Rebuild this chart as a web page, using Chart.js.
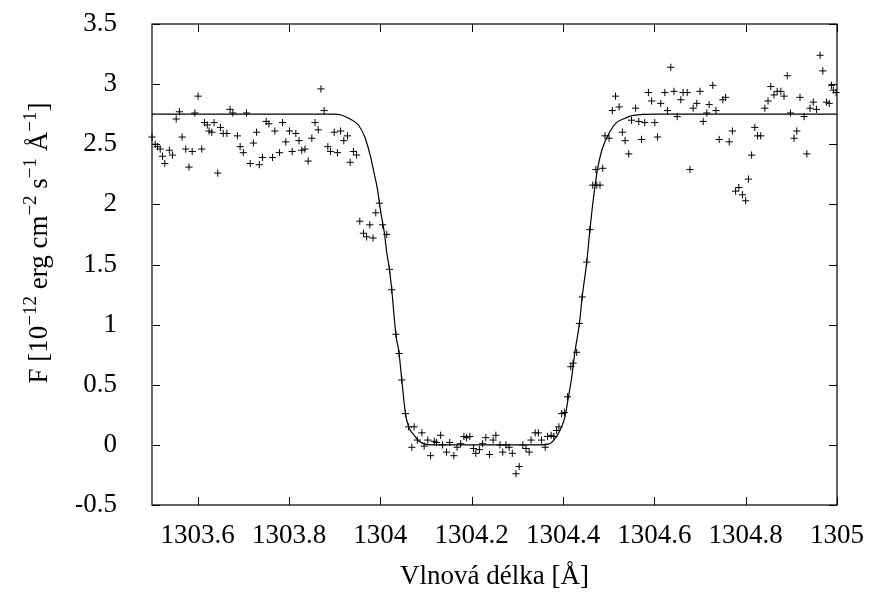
<!DOCTYPE html>
<html>
<head>
<meta charset="utf-8">
<script src="https://cdn.jsdelivr.net/npm/chart.js@4"></script>
<style>
  html, body { margin: 0; padding: 0; background: #fff; }
  #wrap { width: 873px; height: 593px; }
</style>
</head>
<body>
<div id="wrap"><canvas id="c"></canvas></div>
<script>
const waveObs = [
  1303.500, 1303.507, 1303.512, 1303.518, 1303.523, 1303.528, 1303.538, 1303.545, 1303.553, 1303.560,
  1303.566, 1303.574, 1303.581, 1303.588, 1303.594, 1303.601, 1303.609, 1303.615, 1303.621, 1303.625,
  1303.631, 1303.636, 1303.644, 1303.650, 1303.656, 1303.664, 1303.671, 1303.677, 1303.687, 1303.693,
  1303.700, 1303.707, 1303.715, 1303.722, 1303.729, 1303.735, 1303.742, 1303.750, 1303.756, 1303.764,
  1303.769, 1303.779, 1303.786, 1303.793, 1303.801, 1303.807, 1303.815, 1303.822, 1303.828, 1303.835,
  1303.842, 1303.850, 1303.857, 1303.864, 1303.870, 1303.877, 1303.885, 1303.891, 1303.899, 1303.906,
  1303.913, 1303.920, 1303.928, 1303.934, 1303.941, 1303.948, 1303.955, 1303.963, 1303.970, 1303.977,
  1303.984, 1303.990, 1303.998, 1304.005, 1304.014, 1304.020, 1304.025, 1304.034, 1304.041, 1304.047,
  1304.055, 1304.062, 1304.069, 1304.074, 1304.081, 1304.091, 1304.096, 1304.104, 1304.110, 1304.118,
  1304.123, 1304.132, 1304.136, 1304.145, 1304.152, 1304.161, 1304.168, 1304.176, 1304.183, 1304.189,
  1304.196, 1304.204, 1304.209, 1304.217, 1304.224, 1304.231, 1304.239, 1304.247, 1304.253, 1304.262,
  1304.268, 1304.275, 1304.282, 1304.289, 1304.297, 1304.304, 1304.312, 1304.319, 1304.326, 1304.330,
  1304.339, 1304.346, 1304.353, 1304.361, 1304.366, 1304.374, 1304.380, 1304.386, 1304.391, 1304.397,
  1304.403, 1304.410, 1304.417, 1304.422, 1304.430, 1304.436, 1304.442, 1304.452, 1304.459, 1304.465,
  1304.472, 1304.474, 1304.481, 1304.487, 1304.492, 1304.501, 1304.508, 1304.515, 1304.523, 1304.530,
  1304.536, 1304.544, 1304.550, 1304.559, 1304.566, 1304.572, 1304.579, 1304.587, 1304.594, 1304.601,
  1304.607, 1304.614, 1304.623, 1304.629, 1304.636, 1304.643, 1304.650, 1304.658, 1304.663, 1304.672,
  1304.678, 1304.685, 1304.693, 1304.700, 1304.707, 1304.715, 1304.720, 1304.728, 1304.735, 1304.742,
  1304.750, 1304.756, 1304.764, 1304.771, 1304.778, 1304.785, 1304.793, 1304.800, 1304.806, 1304.813,
  1304.820, 1304.826, 1304.833, 1304.842, 1304.849, 1304.855, 1304.862, 1304.869, 1304.877, 1304.884,
  1304.891, 1304.898, 1304.906, 1304.912, 1304.919, 1304.928, 1304.934, 1304.941, 1304.948, 1304.955,
  1304.963, 1304.969, 1304.977, 1304.983, 1304.988, 1304.992, 1304.998
];
const fluxObs = [
  2.56, 2.50, 2.48, 2.46, 2.40, 2.34, 2.45, 2.41, 2.71, 2.77,
  2.56, 2.46, 2.31, 2.44, 2.76, 2.90, 2.46, 2.68, 2.66, 2.61,
  2.60, 2.68, 2.26, 2.64, 2.59, 2.59, 2.79, 2.76, 2.57, 2.48,
  2.43, 2.76, 2.34, 2.51, 2.60, 2.33, 2.39, 2.69, 2.67, 2.39,
  2.61, 2.43, 2.68, 2.52, 2.61, 2.44, 2.59, 2.53, 2.45, 2.46,
  2.36, 2.55, 2.68, 2.62, 2.96, 2.78, 2.48, 2.44, 2.60, 2.43,
  2.61, 2.53, 2.57, 2.35, 2.44, 2.41, 1.86, 1.76, 1.73, 1.83,
  1.72, 1.93, 2.01, 1.83, 1.75, 1.46, 1.29, 0.92, 0.76, 0.54,
  0.26, 0.15, -0.02, 0.15, 0.04, 0.10, -0.01, 0.04, -0.09, 0.03,
  0.02, 0.08, 0.00, -0.06, 0.02, -0.09, -0.02, 0.01, 0.07, 0.06,
  0.07, -0.03, -0.07, -0.04, 0.01, 0.06, -0.08, 0.04, 0.08, 0.00,
  -0.06, 0.00, -0.02, -0.07, -0.24, -0.18, 0.00, -0.03, -0.06, 0.04,
  0.10, 0.10, 0.04, -0.02, 0.07, 0.08, 0.07, 0.12, 0.15, 0.26,
  0.27, 0.40, 0.65, 0.68, 0.77, 1.01, 1.23, 1.52, 1.79, 2.16,
  2.29, 2.16, 2.16, 2.30, 2.57, 2.55, 2.78, 2.90, 2.81, 2.60,
  2.53, 2.42, 2.70, 2.80, 2.69, 2.54, 2.68, 2.93, 2.86, 2.68,
  2.56, 2.84, 2.93, 2.78, 3.14, 2.94, 2.73, 2.87, 2.93, 2.93,
  2.29, 2.80, 2.84, 2.94, 2.69, 2.76, 2.83, 2.99, 2.78, 2.54,
  2.87, 2.89, 2.52, 2.61, 2.11, 2.14, 2.08, 2.03, 2.21, 2.41,
  2.64, 2.57, 2.57, 2.80, 2.86, 2.98, 2.91, 2.94, 2.94, 2.90,
  3.07, 2.76, 2.55, 2.61, 2.89, 2.73, 2.42, 2.80, 2.85, 2.79,
  3.24, 3.11, 2.85, 2.84, 2.99, 2.95, 2.93
];

// fitted profile, sampled along the drawn curve
const waveFit = [
  1303.500, 1303.700, 1303.900, 1303.912, 1303.934, 1303.952, 1303.966, 1303.977, 1303.987, 1303.994,
  1303.998, 1304.003, 1304.009, 1304.014, 1304.020, 1304.025, 1304.034, 1304.041, 1304.047, 1304.055,
  1304.062, 1304.074, 1304.085, 1304.110, 1304.200, 1304.300, 1304.350, 1304.371, 1304.386, 1304.397,
  1304.404, 1304.412, 1304.419, 1304.426, 1304.436, 1304.442, 1304.452, 1304.459, 1304.466, 1304.475,
  1304.485, 1304.502, 1304.517, 1304.532, 1304.554, 1304.605, 1304.800, 1305.000
];
const fluxFit = [
  2.75, 2.75, 2.75, 2.745, 2.71, 2.66, 2.56, 2.42, 2.25, 2.12,
  2.01, 1.89, 1.76, 1.60, 1.46, 1.29, 0.92, 0.76, 0.54, 0.26,
  0.15, 0.08, 0.03, 0.00, 0.00, 0.00, 0.00, 0.01, 0.07, 0.15,
  0.23, 0.40, 0.56, 0.77, 1.01, 1.23, 1.52, 1.79, 2.03, 2.28,
  2.45, 2.60, 2.68, 2.71, 2.74, 2.75, 2.75, 2.75
];

const xTicks = [1303.6, 1303.8, 1304, 1304.2, 1304.4, 1304.6, 1304.8, 1305];
const yTicks = [-0.5, 0, 0.5, 1, 1.5, 2, 2.5, 3, 3.5];

// y axis title as [text, isSuperscript] runs
const yTitle = [['F [10', false], ['\u221212', true], [' erg cm', false], ['\u22122', true],
  [' s', false], ['\u22121', true], [' \u00c5', false], ['\u22121', true], [']', false]];

const FONT = "'Liberation Serif', 'Times New Roman', serif";
const FS = 27;

// gnuplot style: tick marks pointing inward on all four sides, plus the y title with superscripts
const frame = {
  id: 'frame',
  afterDraw(chart) {
    const ctx = chart.ctx, a = chart.chartArea;
    const xs = chart.scales.x, ys = chart.scales.y;
    const len = 8;
    ctx.save();
    ctx.strokeStyle = '#000';
    ctx.lineWidth = 1;
    ctx.beginPath();
    xTicks.forEach(v => {
      const px = Math.round(xs.getPixelForValue(v)) + 0.5;
      ctx.moveTo(px, a.bottom); ctx.lineTo(px, a.bottom - len);
      ctx.moveTo(px, a.top); ctx.lineTo(px, a.top + len);
    });
    yTicks.forEach(v => {
      const py = Math.round(ys.getPixelForValue(v)) + 0.5;
      ctx.moveTo(a.left, py); ctx.lineTo(a.left + len, py);
      ctx.moveTo(a.right, py); ctx.lineTo(a.right - len, py);
    });
    ctx.stroke();
    ctx.lineWidth = 1.2;
    ctx.strokeRect(a.left, a.top, a.right - a.left, a.bottom - a.top);

    // rotated y title
    const big = FS + 'px ' + FONT, small = Math.round(FS * 0.72) + 'px ' + FONT;
    let total = 0;
    yTitle.forEach(([t, sup]) => { ctx.font = sup ? small : big; total += ctx.measureText(t).width; });
    ctx.translate(47, 243);
    ctx.rotate(-Math.PI / 2);
    ctx.fillStyle = '#000';
    ctx.textBaseline = 'alphabetic';
    ctx.textAlign = 'left';
    let x = -total / 2;
    yTitle.forEach(([t, sup]) => {
      ctx.font = sup ? small : big;
      ctx.fillText(t, x, sup ? -FS * 0.42 : 0);
      x += ctx.measureText(t).width;
    });
    ctx.restore();
  }
};

const ctx = document.getElementById('c').getContext('2d');
new Chart(ctx, {
  type: 'scatter',
  data: {
    datasets: [
      {
        label: 'data',
        data: waveObs.map((w, i) => ({ x: w, y: fluxObs[i] })),
        showLine: false,
        pointStyle: 'cross',
        pointRadius: 3.6,
        pointBorderWidth: 1,
        borderColor: '#000',
        backgroundColor: '#000'
      },
      {
        label: 'fit',
        data: waveFit.map((w, i) => ({ x: w, y: fluxFit[i] })),
        showLine: true,
        cubicInterpolationMode: 'monotone',
        pointRadius: 0,
        borderWidth: 1.2,
        borderColor: '#000',
        fill: false
      }
    ]
  },
  options: {
    responsive: true,
    maintainAspectRatio: false,
    animation: false,
    clip: false,
    layout: { padding: { left: 76, right: 36, top: 24, bottom: 0 } },
    plugins: {
      legend: { display: false },
      tooltip: { enabled: false }
    },
    scales: {
      x: {
        type: 'linear',
        min: 1303.5,
        max: 1305,
        afterBuildTicks: s => { s.ticks = xTicks.map(v => ({ value: v })); },
        afterFit: s => { s.height = 88; s.paddingLeft = 0; s.paddingRight = 0; },
        grid: { display: false, drawTicks: false },
        border: { display: false },
        ticks: {
          color: '#000',
          font: { family: FONT, size: FS },
          padding: 15,
          maxRotation: 0,
          autoSkip: false,
          callback: v => String(v)
        },
        title: {
          display: true,
          text: 'Vlnová délka [Å]',
          color: '#000',
          font: { family: FONT, size: FS },
          padding: { top: 8, bottom: 0 }
        }
      },
      y: {
        type: 'linear',
        min: -0.5,
        max: 3.5,
        afterBuildTicks: s => { s.ticks = yTicks.map(v => ({ value: v })); },
        afterFit: s => { s.width = 76; s.paddingTop = 0; s.paddingBottom = 0; },
        grid: { display: false, drawTicks: false },
        border: { display: false },
        ticks: {
          color: '#000',
          font: { family: FONT, size: FS },
          padding: 35,
          autoSkip: false,
          callback: v => String(v)
        }
      }
    }
  },
  plugins: [frame]
});
</script>
</body>
</html>
